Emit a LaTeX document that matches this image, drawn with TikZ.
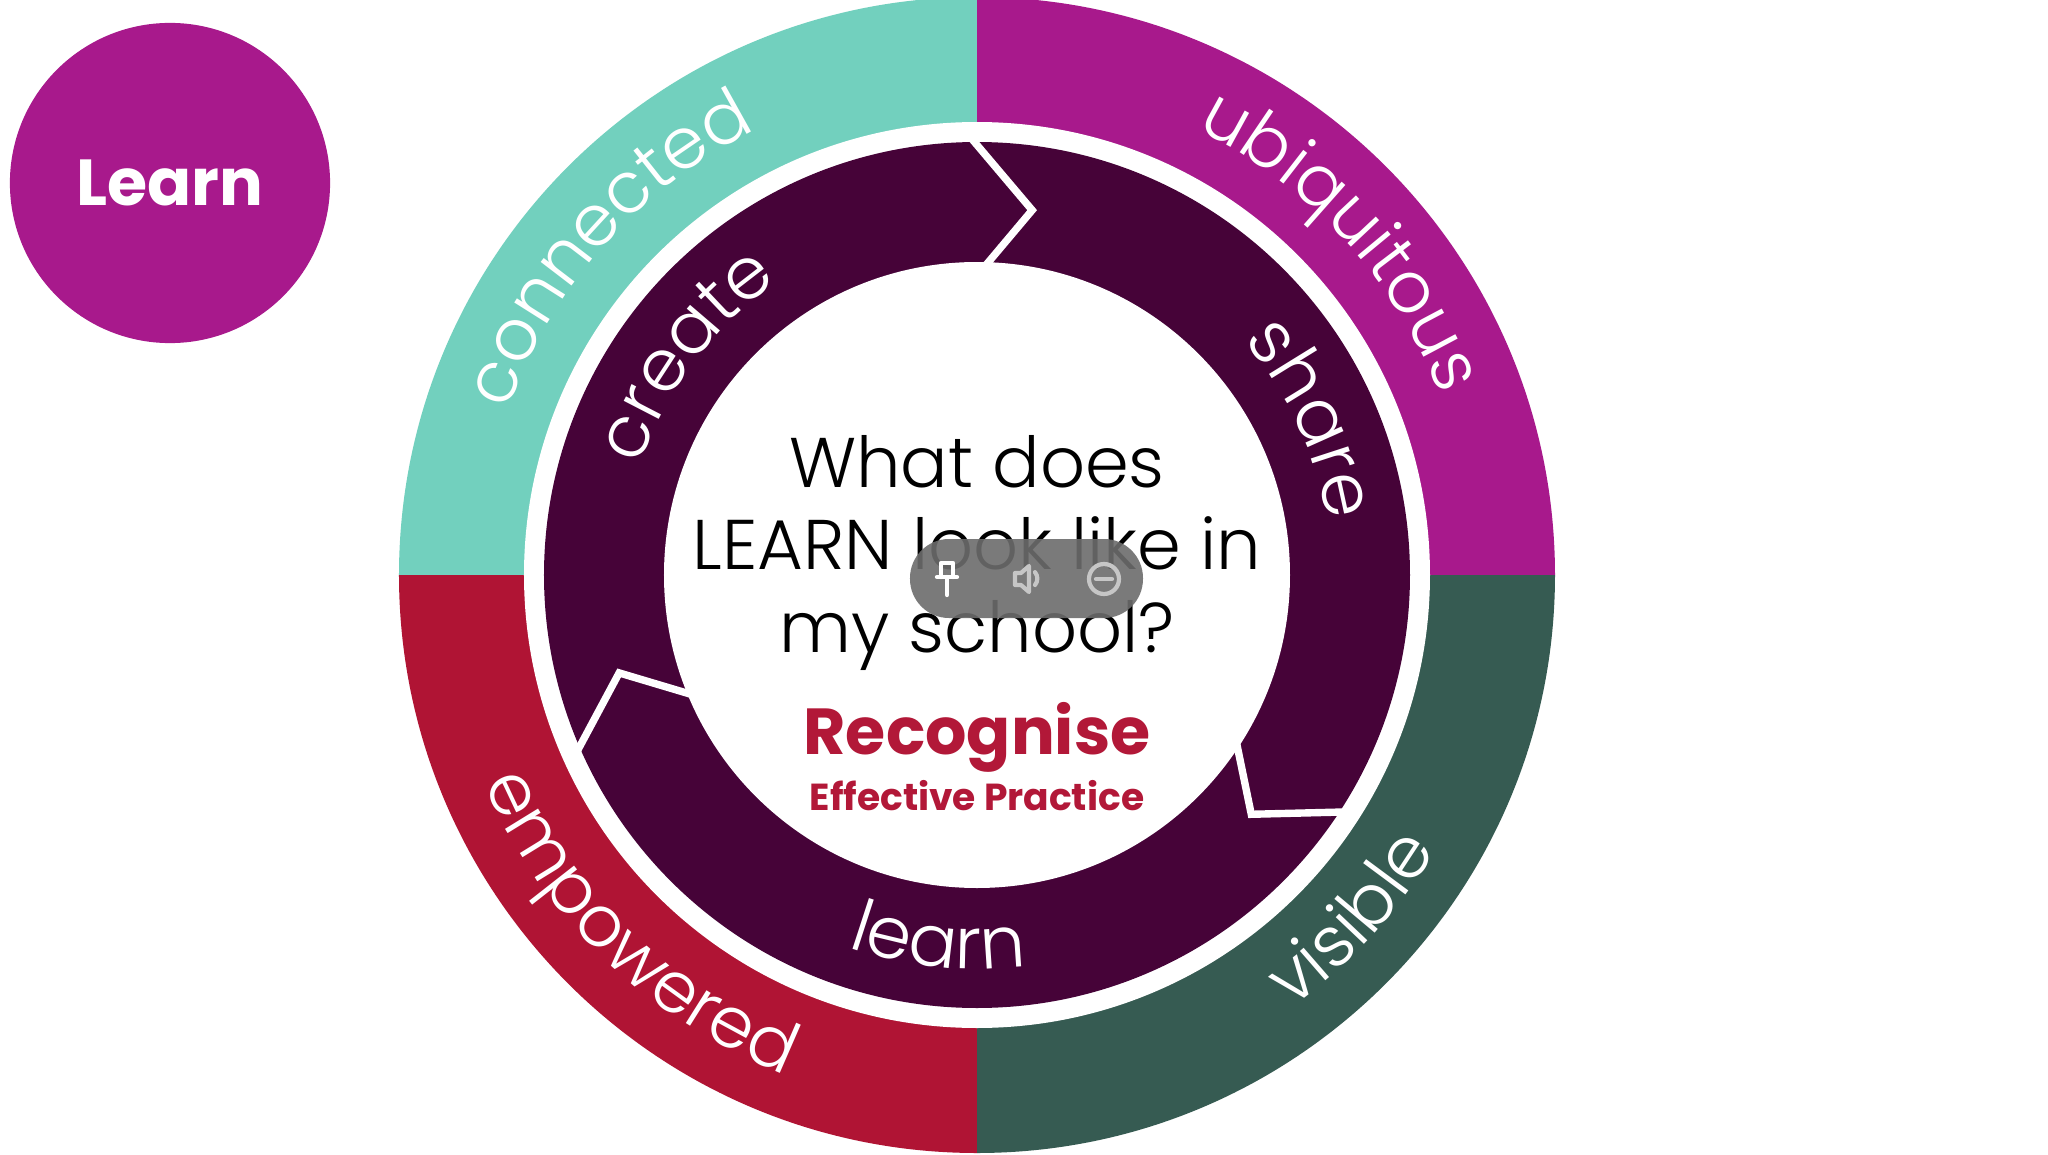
\documentclass[tikz,border=0pt]{standalone}
\usepackage{fontspec}
\setmainfont{Poppins}
\newfontfamily\lightfont{Poppins Light}
\usepackage{xcolor}
\usepackage{tikz}
\usetikzlibrary{decorations.text}

\definecolor{tealring}{HTML}{72D0BE}
\definecolor{magring}{HTML}{A8198C}
\definecolor{redring}{HTML}{B01434}
\definecolor{greenring}{HTML}{365B52}
\definecolor{plumring}{HTML}{460338}
\definecolor{recred}{HTML}{B21838}

\tikzset{
  ringword/.style={decorate, decoration={text along path, text align=center,
      text={|\lightfont\fontsize{20.2}{21}\selectfont\color{white}|#1}}},
  cycleword/.style={decorate, decoration={text along path, text align=center,
      text={|\lightfont\fontsize{20.5}{21}\selectfont\color{white}|#1}}},
  chevron/.style={draw=white, line width=2.1pt, line join=miter},
  learnbtn/.style={circle, fill=magring, minimum size=3.2cm, inner sep=0pt,
      text=white, font=\bfseries\fontsize{18.5}{20}\selectfont},
  question/.style={align=center, text=black, font=\lightfont\fontsize{20}{23.5}\selectfont},
  iconline/.style={line width=1.2pt, line cap=round, line join=round}
}

\begin{document}
\begin{tikzpicture}[x=0.01cm, y=0.01cm]
  % canvas, wheel centre at origin
  \useasboundingbox[fill=white] (-977,-579) rectangle (1071,575);

  % Outer ring quadrants
  \fill[tealring] (0,0) -- (90:578) arc (90:180:578) -- cycle;
  \fill[magring] (0,0) -- (0:578) arc (0:90:578) -- cycle;
  \fill[redring] (0,0) -- (180:578) arc (180:270:578) -- cycle;
  \fill[greenring] (0,0) -- (270:578) arc (270:360:578) -- cycle;
  \fill[white] (0,0) circle (453);

  % Inner cycle ring
  \fill[plumring] (0,0) circle (433);
  \fill[white] (0,0) circle (313);
  \draw[chevron] (91.3:442) -- (81.4:369) -- (89.1:305);
  \draw[chevron] (204.3:442) -- (195.3:371) -- (203.4:305);
  \draw[chevron] (327.6:442) -- (318.9:364) -- (327.9:305);

  % Outer ring words
  \path[ringword={connected}] (173:497) arc (173:104:497);
  \path[ringword={ubiquitous}] (78:497) arc (78:7:497);
  \path[ringword={empowered}] (190:535) arc (190:262:535);
  \path[ringword={visible}] (285:535) arc (285:350:535);

  % Cycle words
  \path[cycleword={create}] (182:354) arc (182:104:354);
  \path[cycleword={share}] (63:354) arc (63:-13:354);
  \path[cycleword={learn}] (224:394) arc (224:304:394);

  % Centre text
  \node[question] (question) at (0,22) {What does\\LEARN look like in\\my school?};
  \node[text=recred, font=\bfseries\fontsize{18.5}{20}\selectfont] (recognise) at (0,-162) {Recognise};
  \node[text=recred, font=\bfseries\fontsize{10.7}{12}\selectfont] (practice) at (0,-221) {Effective Practice};

  % Learn badge
  \node[learnbtn] (badge) at (-807,392) {Learn};

  % Player overlay
  \fill[gray!85!black, opacity=0.9, rounded corners=0.39cm] (-67,-43) rectangle (166,36);
  \draw[iconline, white] (-40,-2) -- (-20,-2);
  \draw[iconline, white] (-36,-2) -- (-36,12) -- (-24,12) -- (-24,-2);
  \draw[iconline, white] (-30,-2) -- (-30,-20);
  \draw[iconline, gray!45] (38,-10) -- (44,-10) -- (52,-17) -- (52,9) -- (44,2) -- (38,2) -- cycle;
  \draw[iconline, gray!45] (58,-10) arc (-40:40:10);
  \draw[iconline, gray!45] (127,-4) circle (15);
  \draw[iconline, gray!45] (119,-4) -- (135,-4);
\end{tikzpicture}
\end{document}
